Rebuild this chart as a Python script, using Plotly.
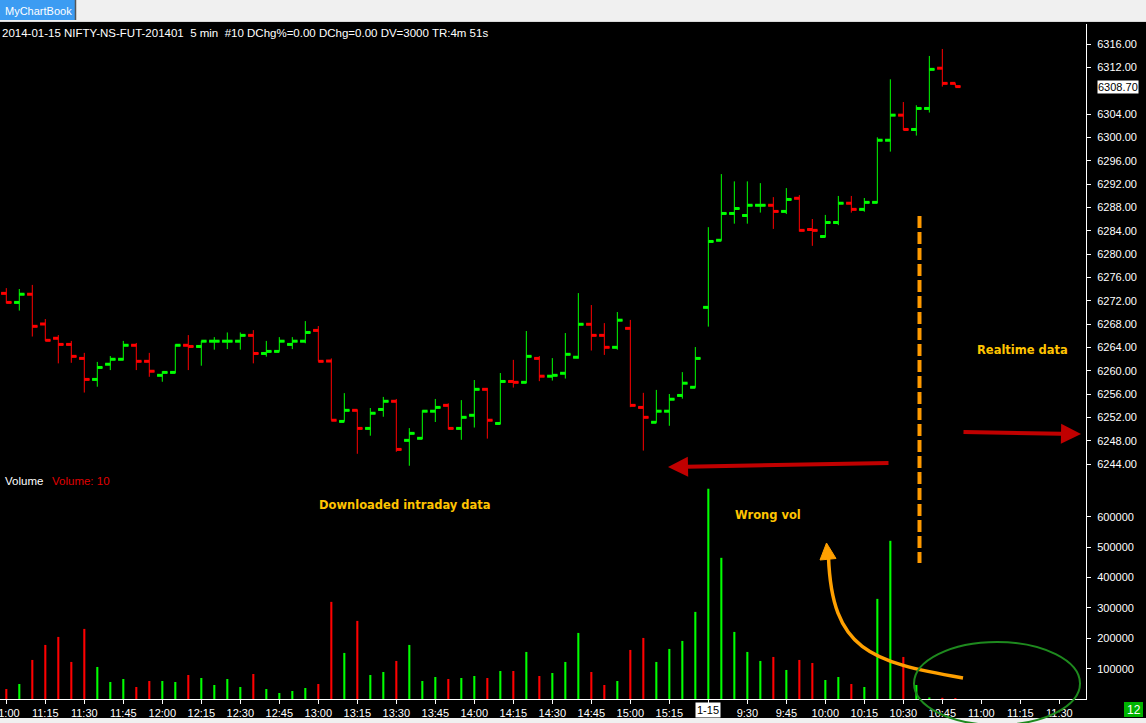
import plotly.graph_objects as go

# ---------------- data ----------------
tick_labels = ["11:00", "11:15", "11:30", "11:45", "12:00", "12:15", "12:30", "12:45",
               "13:00", "13:15", "13:30", "13:45", "14:00", "14:15", "14:30", "14:45",
               "15:00", "15:15", "1-15", "9:30", "9:45", "10:00", "10:15", "10:30",
               "10:45", "11:00", "11:15", "11:30"]

opens = [6273.25, 6271.7, 6273.1, 6268.0, 6265.55, 6264.5, 6262.1, 6258.5, 6261.1, 6261.95,
         6264.35, 6261.6, 6259.2, 6259.7, 6264.35, 6264.15, 6265.05, 6265.05, 6265.05, 6266.05,
         6262.95, 6263.3, 6264.5, 6265.05, 6266.9, 6261.65, 6251.3, 6253.2, 6250.1, 6253.35,
         6254.75, 6248.05, 6248.4, 6253.05, 6254.05, 6250.1, 6252.35, 6256.8, 6250.95, 6258.15,
         6258.0, 6262.1, 6259.05, 6259.55, 6262.3, 6267.95, 6266.05, 6264.0, 6267.25, 6253.7,
         6251.15, 6253.05, 6255.75, 6257.15,
         6270.85, 6282.35, 6286.95, 6286.6, 6288.35, 6288.35, 6287.3, 6289.55, 6284.2, 6283.0,
         6285.4, 6288.7, 6287.65, 6288.85, 6299.5, 6303.8, 6301.35, 6304.95, 6311.85, 6309.25]
highs = [6274.15, 6274.0, 6274.7, 6268.85, 6266.1, 6265.1, 6263.05, 6261.5, 6262.5, 6265.1,
         6264.75, 6263.05, 6259.9, 6264.5, 6266.1, 6265.05, 6265.75, 6266.55, 6266.55, 6266.95,
         6265.1, 6265.75, 6265.75, 6268.5, 6267.65, 6262.1, 6256.15, 6253.35, 6253.6, 6255.5,
         6255.15, 6250.15, 6253.2, 6255.15, 6254.4, 6254.95, 6258.4, 6257.05, 6259.6, 6261.85,
         6266.8, 6262.5, 6262.15, 6266.45, 6273.3, 6271.25, 6268.15, 6270.05, 6268.7, 6256.2,
         6256.7, 6256.0, 6259.75, 6264.05,
         6284.6, 6293.7, 6292.45, 6292.45, 6292.15, 6289.75, 6291.3, 6290.1, 6286.0, 6286.7,
         6289.95, 6289.95, 6289.6, 6300.0, 6309.95, 6306.05, 6305.5, 6313.95, 6315.15, 6309.25]
lows = [6271.55, 6270.3, 6265.85, 6265.1, 6261.25, 6261.35, 6256.25, 6257.25, 6260.1, 6261.75,
        6260.1, 6258.95, 6258.1, 6259.55, 6260.1, 6260.85, 6263.6, 6263.7, 6263.6, 6261.25,
        6262.4, 6263.3, 6263.7, 6264.7, 6261.6, 6251.5, 6251.3, 6245.75, 6248.85, 6252.1,
        6246.1, 6243.7, 6248.25, 6251.2, 6249.95, 6248.15, 6250.25, 6248.35, 6250.8, 6257.1,
        6257.85, 6258.2, 6258.3, 6258.65, 6262.05, 6263.45, 6262.7, 6263.6, 6253.75, 6246.3,
        6251.1, 6250.55, 6255.2, 6257.1,
        6267.55, 6282.3, 6285.2, 6285.2, 6287.1, 6284.3, 6286.85, 6283.85, 6281.4, 6282.85,
        6284.95, 6287.1, 6287.25, 6288.7, 6297.55, 6301.25, 6300.3, 6304.25, 6308.7, 6308.7]
closes = [6271.7, 6273.1, 6267.6, 6265.2, 6264.5, 6262.45, 6258.5, 6260.55, 6261.95, 6264.35,
          6261.6, 6259.9, 6259.7, 6264.35, 6264.15, 6265.05, 6265.05, 6265.05, 6266.05, 6262.95,
          6263.3, 6265.05, 6265.05, 6266.55, 6261.6, 6251.5, 6253.2, 6250.1, 6252.7, 6254.75,
          6246.5, 6249.25, 6253.05, 6253.7, 6250.1, 6252.0, 6256.8, 6251.5, 6258.15, 6258.0,
          6262.45, 6259.05, 6259.2, 6262.8, 6267.95, 6266.05, 6264.0, 6268.65, 6254.05, 6252.0,
          6253.05, 6255.1, 6257.85, 6262.1,
          6282.15, 6286.95, 6287.8, 6288.35, 6288.35, 6287.3, 6289.35, 6284.05, 6284.05, 6285.4,
          6288.7, 6287.65, 6288.85, 6299.5, 6303.8, 6301.35, 6304.95, 6311.65, 6309.25, 6308.7]
volumes = [33000, 49500, 128700, 178200, 204600, 122100, 231000, 105600, 56100, 66000,
           39600, 59400, 59400, 56100, 79200, 69300, 46200, 66000, 39600, 82500,
           33000, 19800, 26400, 36300, 49500, 320100, 151800, 257400, 79200, 89100,
           125400, 178200, 59400, 72600, 66000, 69300, 75900, 69300, 92400, 92400,
           155100, 75900, 85800, 122100, 217800, 89100, 46200, 59400, 161700, 201300,
           122100, 165000, 191400, 287100,
           693000, 465300, 221100, 155100, 125400, 138600, 95700, 128700, 118800, 62700,
           72600, 49500, 39600, 330000, 521400, 138600, 46200, 5000, 4000, 3000]
last_price = 6308.70
price_ticks = [6244, 6248, 6252, 6256, 6260, 6264, 6268, 6272, 6276, 6280, 6284, 6288,
               6292, 6296, 6300, 6304, 6312, 6316]
volume_ticks = [100000, 200000, 300000, 400000, 500000, 600000]

# ---------------- styling / geometry ----------------
W, H = 1146, 723
ML, MR, MT, MB = 0, 60, 24, 24
PW, PH = W - ML - MR, H - MT - MB
GREEN, RED = "#00FF00", "#FF0000"
FONT = "Liberation Sans, Arial, sans-serif"
BOLD = "DejaVu Sans, Verdana, sans-serif"
ANN = "#FFC400"


def px_x(x):
    return (x - ML) / PW


def px_y(y):
    return (H - MB - y) / PH


split = px_y(472)
n = len(opens)
xs = list(range(n))
up = [closes[i] >= opens[i] for i in range(n)]
TW = 0.4

fig = go.Figure()

for flag, col in ((True, GREEN), (False, RED)):
    idx = [i for i in xs if up[i] == flag]
    fig.add_trace(go.Ohlc(
        x=idx, open=[opens[i] for i in idx], high=[highs[i] for i in idx],
        low=[lows[i] for i in idx], close=[closes[i] for i in idx],
        increasing=dict(line=dict(color=col, width=1)),
        decreasing=dict(line=dict(color=col, width=1)),
        tickwidth=TW, xaxis="x", yaxis="y", hoverinfo="skip"))
    sx, sy = [], []
    for i in idx:
        sx += [i - TW, i, None, i, i + TW, None]
        sy += [opens[i], opens[i], None, closes[i], closes[i], None]
    fig.add_trace(go.Scatter(x=sx, y=sy, mode="lines", line=dict(color=col, width=3),
                             xaxis="x", yaxis="y", hoverinfo="skip"))

fig.add_trace(go.Bar(x=xs, y=volumes, width=0.16,
                     marker=dict(color=[GREEN if u else RED for u in up], line=dict(width=0)),
                     xaxis="x", yaxis="y2", hoverinfo="skip"))

tickvals = [3 * k for k in range(len(tick_labels))]
ticktext = ["" if t == "1-15" else t for t in tick_labels]

axis_font = dict(family=FONT, size=11, color="#FFFFFF")
fig.update_layout(
    width=W, height=H, margin=dict(l=ML, r=MR, t=MT, b=MB, autoexpand=False),
    paper_bgcolor="#000000", plot_bgcolor="#000000", showlegend=False,
    xaxis=dict(range=[-0.485, 83.05], anchor="y2", tickvals=tickvals, ticktext=ticktext,
               showline=True, linecolor="#FFFFFF", linewidth=1, ticks="outside", ticklen=4,
               tickcolor="#FFFFFF", tickfont=axis_font, showgrid=False, zeroline=False,
               ticklabeloverflow="allow", automargin=False, rangeslider=dict(visible=False)),
    yaxis=dict(domain=[split, 1], range=[6316 - (472 - 44) / 5.8333, 6316 + (44 - MT) / 5.8333],
               side="right", anchor="x", tickvals=price_ticks, tickformat=".2f",
               showline=True, linecolor="#FFFFFF", linewidth=1, ticks="outside", ticklen=4,
               tickcolor="#FFFFFF", tickfont=axis_font, showgrid=False, zeroline=False,
               ticklabelstandoff=4, automargin=False),
    yaxis2=dict(domain=[0, split], range=[0, (H - MB - 472) / 30.34 * 100000],
                side="right", anchor="x", tickvals=volume_ticks,
                tickformat="d", showline=True, linecolor="#FFFFFF", linewidth=1, ticks="outside",
                ticklen=4, tickcolor="#FFFFFF", tickfont=axis_font, showgrid=False,
                zeroline=False, ticklabelstandoff=4, automargin=False),
)

shapes = []
# window chrome strips
shapes.append(dict(type="rect", xref="paper", yref="paper", x0=px_x(0), x1=px_x(W), y0=px_y(0),
                   y1=px_y(22), fillcolor="#F0F0F0", line=dict(width=0), layer="above"))
shapes.append(dict(type="rect", xref="paper", yref="paper", x0=px_x(0), x1=px_x(W), y0=px_y(718),
                   y1=px_y(H + 2), fillcolor="#F0F0F0", line=dict(width=0), layer="above"))
shapes.append(dict(type="rect", xref="paper", yref="paper", x0=px_x(0), x1=px_x(75), y0=px_y(0),
                   y1=px_y(20), fillcolor="#3C9CF2", line=dict(width=0), layer="above"))
shapes.append(dict(type="line", xref="paper", yref="paper", x0=px_x(75.5), x1=px_x(75.5),
                   y0=px_y(0), y1=px_y(20), line=dict(color="#555555", width=1.5)))
shapes.append(dict(type="line", xref="paper", yref="paper", x0=px_x(0), x1=px_x(W),
                   y0=px_y(21.5), y1=px_y(21.5), line=dict(color="#D8D8D8", width=1)))
# green status box
shapes.append(dict(type="rect", xref="paper", yref="paper", x0=px_x(1124), x1=px_x(1143),
                   y0=px_y(702), y1=px_y(717), fillcolor="#00B400", line=dict(width=0)))
# orange dashed separator
shapes.append(dict(type="line", xref="paper", yref="paper", x0=px_x(919.5), x1=px_x(919.5),
                   y0=px_y(216), y1=px_y(563),
                   line=dict(color="#FF9A00", width=4, dash="12px,4px")))
# curved orange arrow
p0, c1, c2, p1 = (963, 678), (870, 662), (832, 650), (828.5, 557)
path = "M {},{} C {},{} {},{} {},{}".format(px_x(p0[0]), px_y(p0[1]), px_x(c1[0]), px_y(c1[1]),
                                            px_x(c2[0]), px_y(c2[1]), px_x(p1[0]), px_y(p1[1]))
shapes.append(dict(type="path", xref="paper", yref="paper", path=path,
                   line=dict(color="#FFA000", width=3.5)))
head = "M {},{} L {},{} L {},{} Z".format(px_x(826.5), px_y(543), px_x(820), px_y(560),
                                          px_x(836), px_y(558.5))
shapes.append(dict(type="path", xref="paper", yref="paper", path=head,
                   fillcolor="#FFA000", line=dict(color="#FFA000", width=1)))
# green ellipse
shapes.append(dict(type="circle", xref="paper", yref="paper", x0=px_x(914), x1=px_x(1080),
                   y0=px_y(725), y1=px_y(642), line=dict(color="#1E8A1E", width=2)))
fig.update_layout(shapes=shapes)

ann = []
ann.append(dict(xref="paper", yref="paper", x=px_x(3), y=px_y(11), xanchor="left", yanchor="middle",
                text="MyChartBook", showarrow=False,
                font=dict(family=FONT, size=11, color="#FFFFFF")))
ann.append(dict(xref="paper", yref="paper", x=px_x(0), y=px_y(33), xanchor="left", yanchor="middle",
                text="2014-01-15 NIFTY-NS-FUT-201401\u00a0\u00a05 min\u00a0\u00a0#10 DChg%=0.00 "
                     "DChg=0.00 DV=3000 TR:4m 51s",
                showarrow=False, font=dict(family=FONT, size=11.5, color="#FFFFFF")))
ann.append(dict(xref="paper", yref="paper", x=px_x(3), y=px_y(481), xanchor="left", yanchor="middle",
                text="Volume", showarrow=False, font=dict(family=FONT, size=11.5, color="#FFFFFF")))
ann.append(dict(xref="paper", yref="paper", x=px_x(50), y=px_y(481), xanchor="left", yanchor="middle",
                text="Volume: 10", showarrow=False, font=dict(family=FONT, size=11.5, color="#E00000")))
ann.append(dict(xref="paper", yref="y", x=px_x(1097), y=last_price, xanchor="left", yanchor="middle",
                text="{:.2f}".format(last_price), showarrow=False, bgcolor="#FFFFFF", borderpad=0,
                font=dict(family=FONT, size=11, color="#000000")))
ann.append(dict(xref="x", yref="paper", x=tickvals[tick_labels.index("1-15")], y=px_y(702),
                xanchor="center", yanchor="top", text="1-15", showarrow=False, bgcolor="#FFFFFF",
                borderpad=1, font=dict(family=FONT, size=11, color="#000000")))
ann.append(dict(xref="paper", yref="paper", x=px_x(1133.5), y=px_y(709.5), xanchor="center",
                yanchor="middle", text="12", showarrow=False,
                font=dict(family=FONT, size=12, color="#FFFFFF")))
for txt, cx, cy in (("Realtime data", 1022, 350), ("Downloaded intraday data", 405, 505),
                    ("Wrong vol", 768, 515)):
    ann.append(dict(xref="paper", yref="paper", x=px_x(cx), y=px_y(cy), xanchor="center",
                    yanchor="middle", text="<b>" + txt + "</b>", showarrow=False,
                    font=dict(family=BOLD, size=11.5, color=ANN)))
# red arrows
ann.append(dict(xref="paper", yref="paper", x=px_x(668), y=px_y(467), ax=222, ay=-4, text="",
                showarrow=True, arrowhead=2, arrowsize=1, arrowwidth=4, arrowcolor="#C00000",
                standoff=0))
ann.append(dict(xref="paper", yref="paper", x=px_x(1081), y=px_y(434), ax=-119, ay=-2, text="",
                showarrow=True, arrowhead=2, arrowsize=1, arrowwidth=4, arrowcolor="#C00000",
                standoff=0))
fig.update_layout(annotations=ann)

fig.write_html("out.html", config={"displayModeBar": False, "staticPlot": True},
               post_script="document.body.style.margin='0';document.body.style.padding='0';"
                           "document.body.style.overflow='hidden';")
